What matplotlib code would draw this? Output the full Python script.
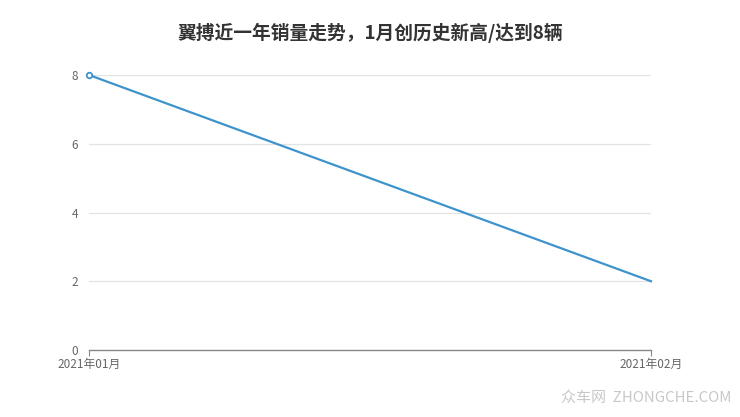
import matplotlib
matplotlib.use("Agg")
import matplotlib.pyplot as plt

months = ["2021年01月", "2021年02月"]
sales = [8, 2]
yticks = [0, 2, 4, 6, 8]
title = "翼搏近一年销量走势，1月创历史新高/达到8辆"

plt.rcParams['font.family'] = ['Noto Sans CJK SC', 'DejaVu Sans']

fig = plt.figure(figsize=(7.40, 4.17), dpi=100)
ax = fig.add_axes([89/740, 67/417, (651-89)/740, (350-75)/417])

x = list(range(len(months)))
ax.plot(x, sales, color='#3d94cd', lw=1.6, marker='o', markevery=[0],
        markersize=4, markerfacecolor='white', markeredgecolor='#3d94cd',
        markeredgewidth=1.3, zorder=3, clip_on=False)

ax.set_xlim(0, len(months) - 1)
ax.set_ylim(0, 8)
ax.set_yticks(yticks)
ax.set_yticklabels([str(v) for v in yticks])
ax.set_xticks(x)
ax.set_xticklabels(months)
ax.grid(axis='y', color='#e3e3e3', lw=0.9)
ax.set_axisbelow(True)
for s in ['top', 'right', 'left']:
    ax.spines[s].set_visible(False)
ax.spines['bottom'].set_color('#888888')
ax.spines['bottom'].set_linewidth(1.0)
ax.tick_params(axis='y', length=0, pad=8, labelsize=8.5, labelcolor='#666666')
ax.tick_params(axis='x', length=4, color='#888888', pad=2, labelsize=8.5, labelcolor='#666666')

fig.text(0.5, 1 - 33/417, title, ha='center', va='center', fontsize=13.5,
         fontweight='bold', color='#333333')
fig.text(731/740, 1 - 398/417, "众车网  ZHONGCHE.COM", ha='right', va='center',
         fontsize=10.8, color='#c8c8c8')

fig.savefig("out.png", dpi=100)
